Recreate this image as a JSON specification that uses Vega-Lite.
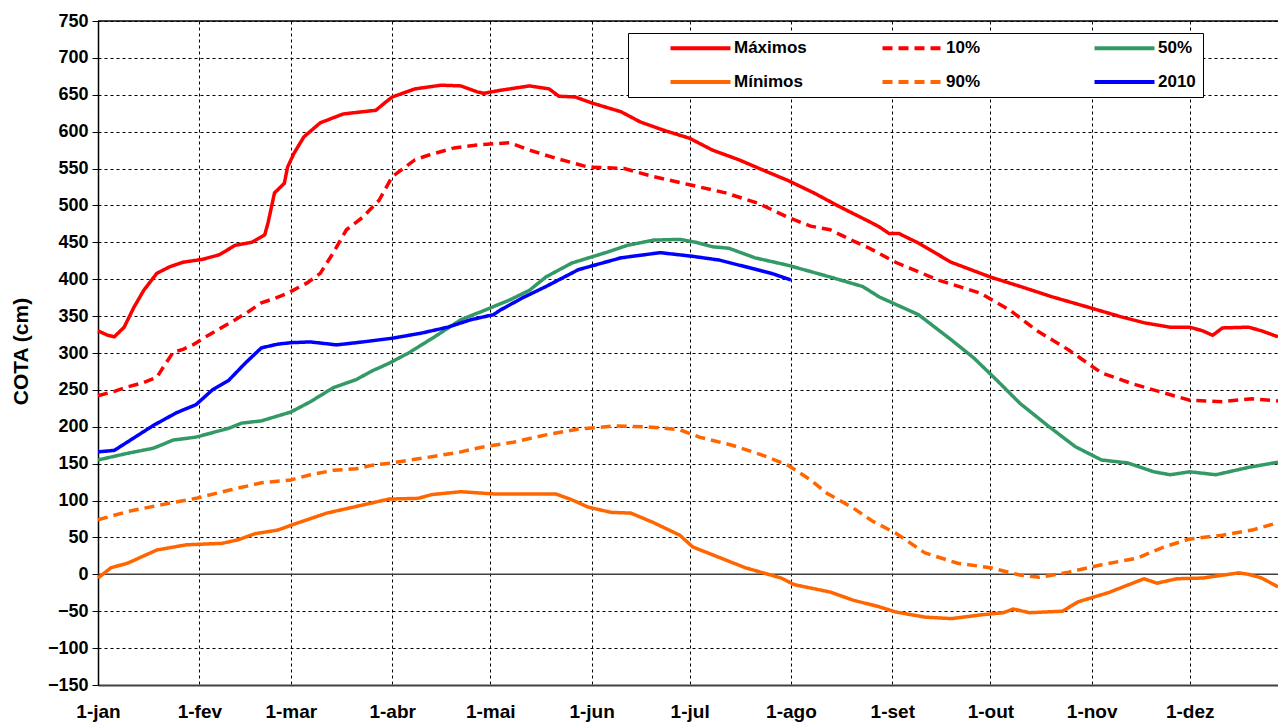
{
  "$schema": "https://vega.github.io/schema/vega-lite/v6.json",
  "width": 1180,
  "height": 664,
  "autosize": {"type": "none"},
  "padding": {"left": 98, "top": 21, "right": 0, "bottom": 37},
  "background": "white",
  "config": {
    "view": {"stroke": null},
    "font": "Liberation Sans",
    "axis": {
      "labelFont": "Liberation Sans",
      "labelFontWeight": "bold",
      "labelColor": "black",
      "gridColor": "black",
      "gridDash": [3, 3],
      "gridWidth": 1,
      "gridOpacity": 1
    }
  },
  "datasets": {
    "series": [
      {"s":"Máximos","d":0,"v":330},{"s":"Máximos","d":3,"v":324},{"s":"Máximos","d":5,"v":322},{"s":"Máximos","d":8,"v":335},{"s":"Máximos","d":11,"v":362},{"s":"Máximos","d":14,"v":385},{"s":"Máximos","d":18,"v":408},{"s":"Máximos","d":22,"v":417},{"s":"Máximos","d":26,"v":423},{"s":"Máximos","d":32,"v":427},{"s":"Máximos","d":37,"v":433},{"s":"Máximos","d":42,"v":446},{"s":"Máximos","d":47,"v":450},{"s":"Máximos","d":51,"v":460},{"s":"Máximos","d":52,"v":476},{"s":"Máximos","d":54,"v":517},{"s":"Máximos","d":57,"v":530},{"s":"Máximos","d":58,"v":552},{"s":"Máximos","d":60,"v":571},{"s":"Máximos","d":63,"v":593},{"s":"Máximos","d":68,"v":612},{"s":"Máximos","d":75,"v":624},{"s":"Máximos","d":81,"v":627},{"s":"Máximos","d":85,"v":629},{"s":"Máximos","d":88,"v":640},{"s":"Máximos","d":90,"v":647},{"s":"Máximos","d":97,"v":658},{"s":"Máximos","d":105,"v":663},{"s":"Máximos","d":111,"v":662},{"s":"Máximos","d":116,"v":654},{"s":"Máximos","d":118,"v":652},{"s":"Máximos","d":123,"v":656},{"s":"Máximos","d":132,"v":662},{"s":"Máximos","d":138,"v":658},{"s":"Máximos","d":141,"v":648},{"s":"Máximos","d":146,"v":647},{"s":"Máximos","d":151,"v":639},{"s":"Máximos","d":160,"v":627},{"s":"Máximos","d":166,"v":613},{"s":"Máximos","d":173,"v":602},{"s":"Máximos","d":181,"v":591},{"s":"Máximos","d":188,"v":575},{"s":"Máximos","d":196,"v":562},{"s":"Máximos","d":205,"v":545},{"s":"Máximos","d":211,"v":534},{"s":"Máximos","d":219,"v":517},{"s":"Máximos","d":227,"v":498},{"s":"Máximos","d":236,"v":478},{"s":"Máximos","d":239,"v":471},{"s":"Máximos","d":242,"v":462},{"s":"Máximos","d":245,"v":462},{"s":"Máximos","d":251,"v":449},{"s":"Máximos","d":261,"v":423},{"s":"Máximos","d":273,"v":403},{"s":"Máximos","d":283,"v":389},{"s":"Máximos","d":292,"v":376},{"s":"Máximos","d":303,"v":362},{"s":"Máximos","d":313,"v":349},{"s":"Máximos","d":320,"v":341},{"s":"Máximos","d":328,"v":335},{"s":"Máximos","d":334,"v":335},{"s":"Máximos","d":338,"v":330},{"s":"Máximos","d":341,"v":324},{"s":"Máximos","d":344,"v":334},{"s":"Máximos","d":352,"v":335},{"s":"Máximos","d":356,"v":330},{"s":"Máximos","d":361,"v":322},

      {"s":"10%","d":0,"v":242},{"s":"10%","d":5,"v":248},{"s":"10%","d":9,"v":254},{"s":"10%","d":14,"v":260},{"s":"10%","d":18,"v":267},{"s":"10%","d":20,"v":281},{"s":"10%","d":23,"v":301},{"s":"10%","d":26,"v":305},{"s":"10%","d":29,"v":311},{"s":"10%","d":33,"v":322},{"s":"10%","d":38,"v":335},{"s":"10%","d":42,"v":345},{"s":"10%","d":46,"v":356},{"s":"10%","d":50,"v":368},{"s":"10%","d":54,"v":374},{"s":"10%","d":58,"v":381},{"s":"10%","d":61,"v":388},{"s":"10%","d":64,"v":395},{"s":"10%","d":68,"v":408},{"s":"10%","d":72,"v":436},{"s":"10%","d":76,"v":467},{"s":"10%","d":81,"v":484},{"s":"10%","d":86,"v":507},{"s":"10%","d":90,"v":539},{"s":"10%","d":94,"v":552},{"s":"10%","d":97,"v":562},{"s":"10%","d":101,"v":568},{"s":"10%","d":109,"v":578},{"s":"10%","d":116,"v":582},{"s":"10%","d":126,"v":585},{"s":"10%","d":132,"v":575},{"s":"10%","d":140,"v":564},{"s":"10%","d":150,"v":552},{"s":"10%","d":161,"v":550},{"s":"10%","d":170,"v":539},{"s":"10%","d":181,"v":528},{"s":"10%","d":192,"v":517},{"s":"10%","d":202,"v":503},{"s":"10%","d":211,"v":484},{"s":"10%","d":218,"v":472},{"s":"10%","d":224,"v":467},{"s":"10%","d":231,"v":452},{"s":"10%","d":236,"v":442},{"s":"10%","d":244,"v":423},{"s":"10%","d":257,"v":399},{"s":"10%","d":270,"v":381},{"s":"10%","d":279,"v":358},{"s":"10%","d":287,"v":331},{"s":"10%","d":297,"v":304},{"s":"10%","d":307,"v":273},{"s":"10%","d":316,"v":259},{"s":"10%","d":326,"v":246},{"s":"10%","d":334,"v":236},{"s":"10%","d":344,"v":234},{"s":"10%","d":353,"v":238},{"s":"10%","d":361,"v":235},

      {"s":"50%","d":0,"v":155},{"s":"50%","d":9,"v":164},{"s":"50%","d":17,"v":171},{"s":"50%","d":23,"v":182},{"s":"50%","d":30,"v":186},{"s":"50%","d":40,"v":198},{"s":"50%","d":44,"v":205},{"s":"50%","d":50,"v":208},{"s":"50%","d":59,"v":220},{"s":"50%","d":65,"v":234},{"s":"50%","d":72,"v":253},{"s":"50%","d":79,"v":264},{"s":"50%","d":84,"v":276},{"s":"50%","d":89,"v":286},{"s":"50%","d":95,"v":300},{"s":"50%","d":103,"v":322},{"s":"50%","d":111,"v":345},{"s":"50%","d":120,"v":361},{"s":"50%","d":126,"v":372},{"s":"50%","d":132,"v":385},{"s":"50%","d":137,"v":403},{"s":"50%","d":145,"v":422},{"s":"50%","d":156,"v":437},{"s":"50%","d":162,"v":446},{"s":"50%","d":170,"v":453},{"s":"50%","d":178,"v":454},{"s":"50%","d":183,"v":450},{"s":"50%","d":188,"v":444},{"s":"50%","d":193,"v":442},{"s":"50%","d":201,"v":429},{"s":"50%","d":211,"v":419},{"s":"50%","d":224,"v":403},{"s":"50%","d":234,"v":390},{"s":"50%","d":239,"v":376},{"s":"50%","d":243,"v":368},{"s":"50%","d":251,"v":352},{"s":"50%","d":261,"v":318},{"s":"50%","d":268,"v":293},{"s":"50%","d":275,"v":263},{"s":"50%","d":282,"v":232},{"s":"50%","d":291,"v":200},{"s":"50%","d":299,"v":173},{"s":"50%","d":307,"v":155},{"s":"50%","d":315,"v":151},{"s":"50%","d":323,"v":139},{"s":"50%","d":328,"v":135},{"s":"50%","d":334,"v":139},{"s":"50%","d":342,"v":135},{"s":"50%","d":352,"v":145},{"s":"50%","d":361,"v":152},

      {"s":"Mínimos","d":0,"v":-5},{"s":"Mínimos","d":4,"v":9},{"s":"Mínimos","d":9,"v":15},{"s":"Mínimos","d":18,"v":33},{"s":"Mínimos","d":27,"v":40},{"s":"Mínimos","d":38,"v":42},{"s":"Mínimos","d":43,"v":47},{"s":"Mínimos","d":48,"v":55},{"s":"Mínimos","d":55,"v":60},{"s":"Mínimos","d":60,"v":68},{"s":"Mínimos","d":70,"v":83},{"s":"Mínimos","d":81,"v":94},{"s":"Mínimos","d":89,"v":102},{"s":"Mínimos","d":98,"v":103},{"s":"Mínimos","d":102,"v":108},{"s":"Mínimos","d":111,"v":112},{"s":"Mínimos","d":121,"v":109},{"s":"Mínimos","d":140,"v":109},{"s":"Mínimos","d":145,"v":101},{"s":"Mínimos","d":150,"v":91},{"s":"Mínimos","d":157,"v":84},{"s":"Mínimos","d":163,"v":83},{"s":"Mínimos","d":170,"v":70},{"s":"Mínimos","d":178,"v":53},{"s":"Mínimos","d":182,"v":37},{"s":"Mínimos","d":190,"v":23},{"s":"Mínimos","d":198,"v":9},{"s":"Mínimos","d":209,"v":-5},{"s":"Mínimos","d":213,"v":-14},{"s":"Mínimos","d":224,"v":-24},{"s":"Mínimos","d":231,"v":-35},{"s":"Mínimos","d":239,"v":-44},{"s":"Mínimos","d":244,"v":-51},{"s":"Mínimos","d":253,"v":-58},{"s":"Mínimos","d":261,"v":-60},{"s":"Mínimos","d":270,"v":-55},{"s":"Mínimos","d":277,"v":-52},{"s":"Mínimos","d":280,"v":-47},{"s":"Mínimos","d":285,"v":-52},{"s":"Mínimos","d":295,"v":-50},{"s":"Mínimos","d":300,"v":-37},{"s":"Mínimos","d":309,"v":-25},{"s":"Mínimos","d":320,"v":-6},{"s":"Mínimos","d":324,"v":-12},{"s":"Mínimos","d":330,"v":-6},{"s":"Mínimos","d":338,"v":-5},{"s":"Mínimos","d":349,"v":2},{"s":"Mínimos","d":352,"v":0},{"s":"Mínimos","d":356,"v":-5},{"s":"Mínimos","d":361,"v":-17},

      {"s":"90%","d":0,"v":74},{"s":"90%","d":9,"v":85},{"s":"90%","d":19,"v":94},{"s":"90%","d":30,"v":103},{"s":"90%","d":40,"v":114},{"s":"90%","d":50,"v":124},{"s":"90%","d":59,"v":128},{"s":"90%","d":65,"v":135},{"s":"90%","d":72,"v":141},{"s":"90%","d":79,"v":143},{"s":"90%","d":84,"v":148},{"s":"90%","d":90,"v":151},{"s":"90%","d":97,"v":156},{"s":"90%","d":103,"v":160},{"s":"90%","d":111,"v":166},{"s":"90%","d":117,"v":172},{"s":"90%","d":121,"v":175},{"s":"90%","d":127,"v":179},{"s":"90%","d":137,"v":189},{"s":"90%","d":147,"v":197},{"s":"90%","d":158,"v":201},{"s":"90%","d":168,"v":200},{"s":"90%","d":178,"v":196},{"s":"90%","d":184,"v":186},{"s":"90%","d":194,"v":175},{"s":"90%","d":203,"v":162},{"s":"90%","d":211,"v":148},{"s":"90%","d":218,"v":128},{"s":"90%","d":223,"v":110},{"s":"90%","d":231,"v":90},{"s":"90%","d":237,"v":72},{"s":"90%","d":244,"v":56},{"s":"90%","d":253,"v":29},{"s":"90%","d":263,"v":15},{"s":"90%","d":273,"v":9},{"s":"90%","d":282,"v":-1},{"s":"90%","d":288,"v":-4},{"s":"90%","d":297,"v":3},{"s":"90%","d":307,"v":13},{"s":"90%","d":318,"v":22},{"s":"90%","d":326,"v":37},{"s":"90%","d":334,"v":48},{"s":"90%","d":344,"v":53},{"s":"90%","d":353,"v":60},{"s":"90%","d":361,"v":70},

      {"s":"2010","d":0,"v":166},{"s":"2010","d":5,"v":168},{"s":"2010","d":11,"v":185},{"s":"2010","d":17,"v":202},{"s":"2010","d":24,"v":219},{"s":"2010","d":30,"v":230},{"s":"2010","d":35,"v":250},{"s":"2010","d":40,"v":263},{"s":"2010","d":45,"v":286},{"s":"2010","d":50,"v":307},{"s":"2010","d":55,"v":312},{"s":"2010","d":59,"v":314},{"s":"2010","d":65,"v":315},{"s":"2010","d":73,"v":311},{"s":"2010","d":81,"v":315},{"s":"2010","d":90,"v":320},{"s":"2010","d":99,"v":327},{"s":"2010","d":107,"v":335},{"s":"2010","d":114,"v":345},{"s":"2010","d":121,"v":352},{"s":"2010","d":123,"v":358},{"s":"2010","d":130,"v":375},{"s":"2010","d":137,"v":390},{"s":"2010","d":147,"v":413},{"s":"2010","d":160,"v":429},{"s":"2010","d":172,"v":436},{"s":"2010","d":182,"v":431},{"s":"2010","d":190,"v":426},{"s":"2010","d":198,"v":417},{"s":"2010","d":206,"v":408},{"s":"2010","d":212,"v":399}
    ]
  },
  "encoding": {
    "y": {
      "field": "v", "type": "quantitative",
      "scale": {"domain": [-150, 750], "nice": false},
      "axis": {
        "title": "COTA (cm)",
        "titleFont": "Liberation Sans",
        "titleFontSize": 21,
        "titleFontWeight": "bold",
        "titleColor": "black",
        "titleX": -77,
        "titleY": 330,
        "titleAngle": 270,
        "titleAlign": "center",
        "titleBaseline": "middle",
        "values": [-150, -100, -50, 0, 50, 100, 150, 200, 250, 300, 350, 400, 450, 500, 550, 600, 650, 700, 750],
        "grid": true,
        "tickSize": 6,
        "tickColor": "black",
        "labelFontSize": 18,
        "labelPadding": 4,
        "labelOverlap": false,
        "domainColor": "black",
        "domainWidth": 1.5
      }
    }
  },
  "layer": [
    {
      "data": {"values": [{"v": 0}]},
      "mark": {"type": "rule", "color": "#404040", "strokeWidth": 1.5}
    },
    {
      "data": {"values": [{"v": 750}]},
      "mark": {"type": "rule", "color": "black", "strokeWidth": 1.5}
    },
    {
      "data": {"name": "series"},
      "mark": {"type": "line", "strokeWidth": 3.5, "interpolate": "linear"},
      "encoding": {
        "x": {
          "field": "d", "type": "quantitative",
          "scale": {"domain": [0, 361], "nice": false, "zero": false},
          "axis": {
            "title": null,
            "values": [0, 31, 59, 90, 120, 151, 181, 212, 243, 273, 304, 334],
            "labelExpr": "datum.value==0?'1-jan':datum.value==31?'1-fev':datum.value==59?'1-mar':datum.value==90?'1-abr':datum.value==120?'1-mai':datum.value==151?'1-jun':datum.value==181?'1-jul':datum.value==212?'1-ago':datum.value==243?'1-set':datum.value==273?'1-out':datum.value==304?'1-nov':'1-dez'",
            "grid": true,
            "ticks": false,
            "tickSize": 0,
            "labelFontSize": 19,
            "labelPadding": 17,
            "labelFlush": false,
            "labelOverlap": false,
            "domainColor": "#404040",
            "domainWidth": 2
          }
        },
        "color": {
          "field": "s", "type": "nominal",
          "scale": {
            "domain": ["Máximos", "10%", "50%", "Mínimos", "90%", "2010"],
            "range": ["#FF0000", "#FF0000", "#339966", "#FF6600", "#FF6600", "#0000FF"]
          },
          "legend": {
            "title": null,
            "orient": "none",
            "legendX": 530,
            "legendY": 12,
            "columns": 3,
            "gridAlign": "all",
            "direction": "horizontal",
            "strokeColor": "black",
            "fillColor": "white",
            "padding": 6.5,
            "symbolType": "M-5,0H5",
            "symbolSize": 144,
            "symbolStrokeWidth": 4,
            "symbolOffset": 57.5,
            "labelFont": "Liberation Sans",
            "labelFontSize": 17,
            "labelFontWeight": "bold",
            "labelColor": "black",
            "labelOffset": 25,
            "columnPadding": 39,
            "rowPadding": 16
          }
        },
        "strokeDash": {
          "field": "s", "type": "nominal",
          "scale": {
            "domain": ["Máximos", "10%", "50%", "Mínimos", "90%", "2010"],
            "range": [[1, 0], [10, 6], [1, 0], [1, 0], [10, 6], [1, 0]]
          },
          "legend": null
        },
        "detail": {"field": "s"}
      }
    }
  ]
}
